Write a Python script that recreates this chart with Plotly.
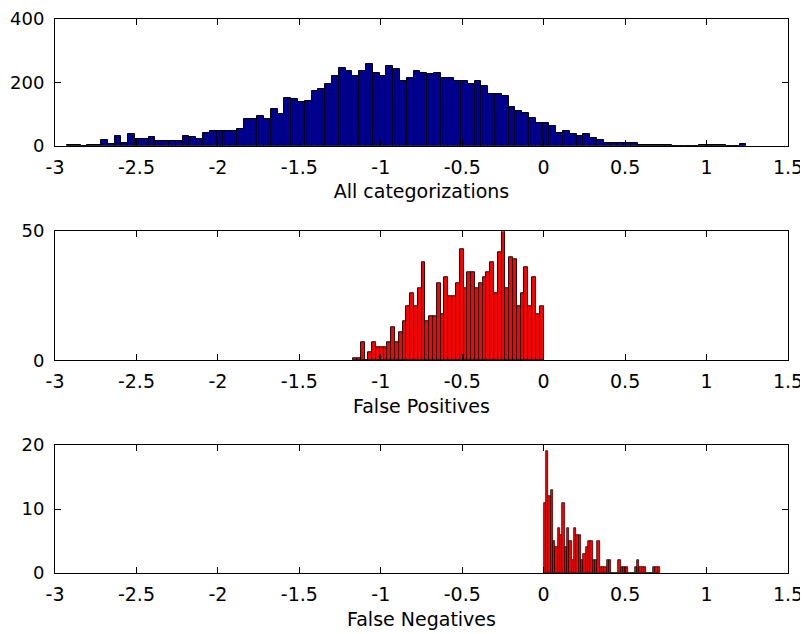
import numpy as np
import plotly.graph_objects as go

# ---- data ----
all_left, all_right = -2.926, 1.245
all_counts = [4, 4, 1, 3, 3, 20, 5, 31, 10, 36,
              21, 21, 27, 15, 15, 15, 15, 31, 27, 21,
              41, 48, 48, 48, 48, 53, 85, 85, 95, 85,
              116, 99, 152, 147, 137, 142, 173, 178, 195, 220,
              246, 236, 220, 236, 258, 231, 220, 252, 241, 205,
              215, 236, 231, 226, 231, 215, 215, 205, 205, 195,
              205, 188, 162, 162, 157, 121, 111, 105, 89, 72,
              72, 62, 41, 47, 36, 31, 36, 26, 20, 10,
              10, 10, 10, 10, 3, 3, 3, 3, 3, 0,
              0, 0, 0, 4, 4, 4, 4, 0, 0, 5]

fp_left, fp_right = -1.170, -0.001
fp_counts = [1, 1, 7, 0, 3, 7, 5, 5, 5, 7,
             13, 7, 11, 15, 21, 26, 21, 28, 38, 15,
             17, 17, 30, 18, 32, 25, 25, 30, 43, 28,
             34, 34, 28, 30, 32, 34, 38, 26, 42, 50,
             28, 40, 39, 21, 26, 36, 21, 32, 18, 21]

fn_left, fn_right = 0.0, 0.715
fn_counts = [11, 19, 12, 13, 5, 4, 7, 6, 11, 4,
             7, 5, 2, 7, 6, 6, 2, 3, 4, 5,
             5, 2, 2, 5, 1, 1, 1, 2, 2, 0,
             0, 0, 2, 1, 1, 1, 0, 0, 0, 1,
             2, 1, 1, 1, 0, 0, 0, 1, 1, 1]

titles = ["All categorizations", "False Positives", "False Negatives"]
x_ticks = [-3, -2.5, -2, -1.5, -1, -0.5, 0, 0.5, 1, 1.5]
x_tick_text = ["-3", "-2.5", "-2", "-1.5", "-1", "-0.5", "0", "0.5", "1", "1.5"]
y_ranges = [[0, 400], [0, 50], [0, 20]]
y_dticks = [200, 50, 10]


def centers(left, right, counts):
    n = len(counts)
    w = (right - left) / n
    return left + w * (np.arange(n) + 0.5), w


FONT = dict(family="DejaVu Sans", size=19, color="black")
YTICKFONT = dict(family="DejaVu Sans", size=18, color="black")

fig = go.Figure()
specs = [(all_left, all_right, all_counts, "#00008F", 1.0),
         (fp_left, fp_right, fp_counts, "#FF0000", 0.9),
         (fn_left, fn_right, fn_counts, "#FF0000", 0.7)]
for i, (l, r, c, col, lw) in enumerate(specs):
    xc, w = centers(l, r, c)
    sfx = "" if i == 0 else str(i + 1)
    fig.add_trace(go.Bar(x=xc, y=c, width=w, marker=dict(color=col, line=dict(color="black", width=lw)),
                         xaxis="x" + sfx, yaxis="y" + sfx, showlegend=False))

# page body has an 8px margin, so the figure is 8px smaller and margins shifted
domains = [[0.771, 1.0], [0.384, 0.617], [0.0, 0.231]]
layout = dict(width=800, height=626, margin=dict(l=47, r=20, t=11, b=61, autoexpand=False),
              paper_bgcolor="white", plot_bgcolor="white", font=FONT, bargap=0,
              showlegend=False)
for i in range(3):
    sfx = "" if i == 0 else str(i + 1)
    layout["xaxis" + sfx] = dict(domain=[0, 1], anchor="y" + sfx, range=[-3, 1.5],
                                 tickmode="array", tickvals=x_ticks, ticktext=x_tick_text,
                                 ticks="inside", ticklen=6, tickcolor="black", showline=True,
                                 linecolor="black", linewidth=1, mirror="ticks", showgrid=False,
                                 zeroline=False, ticklabelstandoff=4, automargin=False,
                                 ticklabeloverflow="allow",
                                 title=dict(text=titles[i], standoff=8, font=FONT))
    layout["yaxis" + sfx] = dict(domain=domains[i], anchor="x" + sfx, range=y_ranges[i],
                                 dtick=y_dticks[i], ticks="inside", ticklen=6, tickcolor="black",
                                 showline=True, linecolor="black", linewidth=1, mirror="ticks",
                                 showgrid=False, zeroline=False, ticklabelstandoff=6,
                                 automargin=False, ticklabeloverflow="allow", tickfont=YTICKFONT)
fig.update_layout(**layout)
fig.write_html("out.html")
